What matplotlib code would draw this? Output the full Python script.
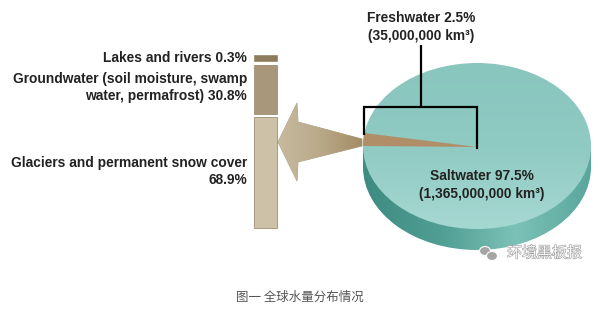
import numpy as np
import matplotlib
matplotlib.use('Agg')
import matplotlib.pyplot as plt
import matplotlib.patheffects as pe
from matplotlib.patches import Ellipse, Polygon, Rectangle
from matplotlib.colors import LinearSegmentedColormap

# values from the chart
fresh_pct = 2.5
salt_pct = 97.5
fresh_label = "Freshwater 2.5%\n(35,000,000 km³)"
salt_label = "Saltwater 97.5%\n(1,365,000,000 km³)"
bar_names = ["Lakes and rivers 0.3%",
             "Groundwater (soil moisture, swamp\nwater, permafrost) 30.8%",
             "Glaciers and permanent snow cover\n68.9%"]
bar_pcts = [0.3, 30.8, 68.9]
bar_colors = ["#8c7b5d", "#a8977a", "#cdc2a8"]
caption = "图一 全球水量分布情况"
watermark = "环境黑板报"

plt.rcParams['font.family'] = ['Liberation Sans', 'DejaVu Sans']
FS = 9.9

fig = plt.figure(figsize=(6.0, 3.09), dpi=100)
ax = fig.add_axes([0, 0, 1, 1])


def grad_fill(patch, x0, x1, y0, y1, colors, horizontal=True):
    n = 256
    g = np.linspace(0, 1, n)
    img = g[None, :] if horizontal else g[:, None]
    cmap = LinearSegmentedColormap.from_list("g", colors)
    im = ax.imshow(img, extent=(x0, x1, y1, y0), origin='upper', cmap=cmap,
                   aspect='auto', interpolation='bilinear', zorder=patch.get_zorder())
    im.set_clip_path(patch)


# ---- stacked bar on the left ----
px_per_pct = 1.6
bar_x, bar_w = 254, 23
top = 55
gaps = 3.5
text_y = []
for name, p, c in zip(bar_names, bar_pcts, bar_colors):
    h = max(p * px_per_pct, 6)
    ax.bar(bar_x + bar_w / 2, h, width=bar_w, bottom=top, color=c,
           edgecolor="#9e8f72", linewidth=0.6, zorder=2)
    text_y.append(top + h / 2)
    top += h + gaps

ax.text(247, text_y[0], bar_names[0], ha='right', va='center',
        fontsize=FS, fontweight='bold', color='#222222')
ax.text(247, text_y[1] - 2, bar_names[1], ha='right', va='center',
        fontsize=FS, fontweight='bold', color='#222222', linespacing=1.25)
ax.text(247, text_y[2] - 1, bar_names[2], ha='right', va='center',
        fontsize=FS, fontweight='bold', color='#222222', linespacing=1.25)

# ---- arrow ----
arrow = Polygon([(278, 142), (297, 103), (298, 122), (362, 139), (362, 146),
                 (298, 162), (297, 181)], closed=True, facecolor='none',
                edgecolor='#a89a7c', linewidth=0.6, zorder=3)
ax.add_patch(arrow)
grad_fill(arrow, 278, 362, 100, 185, ["#c6baa0", "#b9a988", "#a58c66"])

# ---- 3d pie ----
cx, cy, a, b, depth = 477, 146, 114, 83, 21
side_rect = Rectangle((cx - a, cy), 2 * a, depth, facecolor='none',
                      edgecolor='none', zorder=4)
side_ell = Ellipse((cx, cy + depth), 2 * a, 2 * b, facecolor='none',
                   edgecolor='none', zorder=4)
ax.add_patch(side_rect)
ax.add_patch(side_ell)
side_cols = ["#3e8b82", "#4f9d93", "#7cc1b7", "#5aa79d"]
grad_fill(side_rect, cx - a, cx + a, cy, cy + depth + b, side_cols)
grad_fill(side_ell, cx - a, cx + a, cy, cy + depth + b, side_cols)

top_face = Ellipse((cx, cy), 2 * a, 2 * b, facecolor='none', edgecolor='none', zorder=5)
ax.add_patch(top_face)
grad_fill(top_face, cx - a, cx + a, cy - b, cy + b,
          ["#89c6be", "#8fcac3", "#a6d8d2"], horizontal=False)

# freshwater wedge: share of the circle from fresh_pct
span = fresh_pct / (fresh_pct + salt_pct) * 2 * np.pi
t = np.linspace(np.pi - span, np.pi, 30)
pts = [(cx, cy + 1)] + [(cx + a * np.cos(v), cy - b * np.sin(v)) for v in t]
wedge = Polygon(pts, closed=True, facecolor='#b08e68', edgecolor='none', zorder=6)
ax.add_patch(wedge)

# bracket
ax.plot([421, 421], [45, 107], color='black', lw=1.6, zorder=7, solid_capstyle='butt')
ax.plot([364, 364, 477, 477], [134, 107, 107, 148], color='black', lw=1.6, zorder=7,
        solid_joinstyle='miter')

ax.text(421, 27, fresh_label, ha='center', va='center', fontsize=FS,
        fontweight='bold', color='#222222', linespacing=1.3)
ax.text(482, 185, salt_label, ha='center', va='center', fontsize=FS,
        fontweight='bold', color='#222222', zorder=8, linespacing=1.3)

# watermark
ax.add_patch(Ellipse((485, 251), 11, 9, facecolor='#a5a5a5', edgecolor='white',
                     linewidth=0.8, zorder=8))
ax.add_patch(Ellipse((492, 256), 11, 9, facecolor='#a5a5a5', edgecolor='white',
                     linewidth=0.8, zorder=8))
ax.text(507, 253, watermark, ha='left', va='center', fontsize=10.8,
        color='#f6f6f6', family=['Noto Sans CJK SC', 'DejaVu Sans'], zorder=8,
        path_effects=[pe.withStroke(linewidth=0.8, foreground='#9a9a9a')])

# caption
ax.text(300, 297, caption, ha='center', va='center', fontsize=9.0, color='#555555',
        family=['Noto Sans CJK SC', 'DejaVu Sans'])

ax.set_xlim(0, 600)
ax.set_ylim(309, 0)
ax.axis('off')
fig.savefig("out.png", dpi=100, facecolor='white')
